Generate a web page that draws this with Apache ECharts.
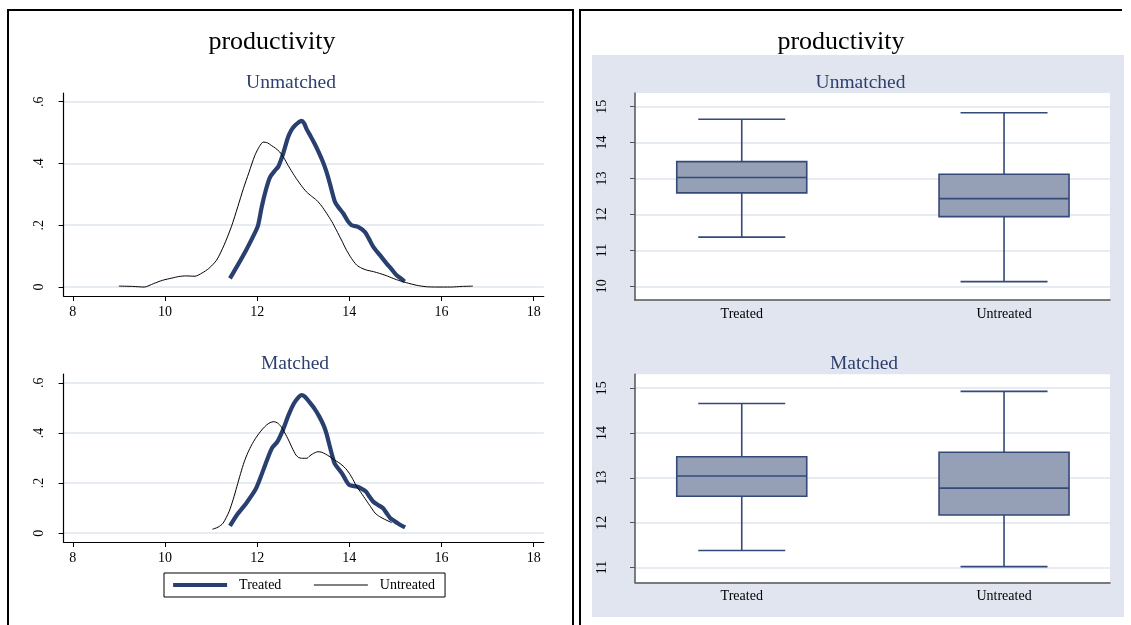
<!DOCTYPE html>
<html>
<head>
<meta charset="utf-8">
<script src="https://cdn.jsdelivr.net/npm/echarts@6/dist/echarts.min.js"></script>
<style>
  html, body { margin: 0; padding: 0; background: #fff; }
  #chart { width: 1131px; height: 625px; }
</style>
</head>
<body>
<div id="chart"></div>
<script>
// Kernel density estimates of productivity, [x, density]
const densTreatedUnmatched = [
  [11.41,0.028],[11.56,0.066],[11.76,0.119],[11.95,0.175],[12.02,0.200],[12.10,0.260],[12.19,0.315],
  [12.28,0.356],[12.38,0.376],[12.46,0.390],[12.56,0.430],[12.67,0.485],[12.75,0.510],[12.82,0.523],
  [12.90,0.533],[12.96,0.538],[13.02,0.530],[13.07,0.512],[13.16,0.488],[13.25,0.463],[13.34,0.435],
  [13.43,0.404],[13.50,0.375],[13.58,0.334],[13.69,0.275],[13.78,0.255],[13.87,0.238],[13.96,0.215],
  [14.05,0.200],[14.19,0.195],[14.34,0.178],[14.43,0.155],[14.52,0.130],[14.66,0.104],[14.81,0.076],
  [14.92,0.057],[15.02,0.039],[15.12,0.028],[15.20,0.018]
];
const densUntreatedUnmatched = [
  [9.00,0.003],[9.30,0.002],[9.55,0.000],[9.75,0.011],[9.95,0.022],[10.15,0.029],[10.30,0.034],
  [10.45,0.036],[10.65,0.035],[10.80,0.045],[10.95,0.060],[11.12,0.087],[11.28,0.135],[11.44,0.195],
  [11.58,0.260],[11.70,0.318],[11.82,0.370],[11.95,0.426],[12.05,0.455],[12.13,0.469],[12.22,0.467],
  [12.31,0.458],[12.40,0.449],[12.49,0.437],[12.58,0.418],[12.67,0.394],[12.76,0.372],[12.85,0.351],
  [12.96,0.328],[13.07,0.308],[13.18,0.294],[13.29,0.281],[13.40,0.262],[13.51,0.238],[13.62,0.212],
  [13.72,0.184],[13.83,0.152],[13.94,0.119],[14.05,0.092],[14.16,0.071],[14.27,0.061],[14.37,0.055],
  [14.52,0.050],[14.66,0.044],[14.80,0.037],[14.95,0.028],[15.10,0.020],[15.24,0.014],[15.45,0.006],
  [15.67,0.001],[15.90,0.000],[16.20,0.000],[16.45,0.002],[16.68,0.003]
];
const densTreatedMatched = [
  [11.41,0.029],[11.56,0.073],[11.76,0.119],[11.96,0.173],[12.08,0.226],[12.20,0.285],[12.32,0.339],
  [12.44,0.365],[12.56,0.412],[12.68,0.471],[12.80,0.518],[12.90,0.543],[12.96,0.551],[13.04,0.544],
  [13.14,0.522],[13.24,0.498],[13.34,0.468],[13.44,0.431],[13.50,0.400],[13.56,0.358],[13.62,0.315],
  [13.68,0.279],[13.76,0.258],[13.84,0.239],[13.92,0.213],[14.00,0.192],[14.16,0.186],[14.26,0.178],
  [14.36,0.166],[14.44,0.145],[14.52,0.126],[14.62,0.113],[14.73,0.100],[14.81,0.080],[14.89,0.060],
  [14.97,0.050],[15.05,0.040],[15.13,0.031],[15.21,0.023]
];
const densUntreatedMatched = [
  [11.03,0.016],[11.15,0.024],[11.26,0.040],[11.39,0.086],[11.48,0.135],[11.56,0.186],[11.64,0.238],
  [11.72,0.285],[11.80,0.322],[11.88,0.352],[11.96,0.377],[12.04,0.398],[12.12,0.416],[12.20,0.431],
  [12.28,0.441],[12.36,0.445],[12.44,0.440],[12.52,0.425],[12.60,0.400],[12.68,0.372],[12.76,0.340],
  [12.84,0.312],[12.90,0.302],[12.96,0.299],[13.08,0.299],[13.14,0.308],[13.20,0.316],[13.32,0.325],
  [13.40,0.323],[13.48,0.316],[13.58,0.305],[13.68,0.292],[13.76,0.283],[13.84,0.272],[13.92,0.258],
  [14.00,0.239],[14.08,0.214],[14.16,0.186],[14.26,0.160],[14.36,0.133],[14.46,0.106],[14.56,0.080],
  [14.66,0.066],[14.76,0.056],[14.84,0.049],[14.92,0.042]
];

// Box summaries per group: [lower whisker, Q1, median, Q3, upper whisker]
const groups = ['Treated', 'Untreated'];
const boxUnmatched = [
  [11.37, 12.60, 13.03, 13.47, 14.65],
  [10.13, 11.94, 12.44, 13.12, 14.83]
];
const boxMatched = [
  [11.38, 12.59, 13.04, 13.47, 14.66],
  [11.02, 12.17, 12.77, 13.57, 14.93]
];

// Tick values
const densityTicksX = [8, 10, 12, 14, 16, 18];
const densityTicksY = [0, 0.2, 0.4, 0.6];
const boxTicksUnmatched = [10, 11, 12, 13, 14, 15];
const boxTicksMatched = [11, 12, 13, 14, 15];
const groupTicks = [0, 1];

const SERIF = '"Liberation Serif", "DejaVu Serif", serif';
const NAVY = '#283f70';
const SUBTITLE = '#2d3f6d';
const GRIDLINE = '#dfe4ee';
const BOX_FILL = '#95a0b6';
const BOX_LINE = '#34487a';
const PANEL_BG = '#e0e5ef';
const BOX_W = 130;
const CAP_W = 87;
const THICK = 4.2;

const fmtDensity = v => (Math.abs(v) < 1e-9 ? '0' : String(+v.toFixed(1)).replace(/^0/, ''));

function densityXAxis(gridIndex) {
  return {
    type: 'value', gridIndex, min: 7.8, max: 18.22,
    axisLine: { onZero: false, lineStyle: { color: '#000', width: 1.2 } },
    axisTick: { show: true, length: 5, customValues: densityTicksX, lineStyle: { color: '#000' } },
    axisLabel: { customValues: densityTicksX, margin: 9, color: '#000', fontFamily: SERIF, fontSize: 14 },
    splitLine: { show: false }
  };
}
function densityYAxis(gridIndex, min, max) {
  return {
    type: 'value', gridIndex, min, max,
    axisLine: { show: true, onZero: false, lineStyle: { color: '#000', width: 1.2 } },
    axisTick: { show: true, length: 5, customValues: densityTicksY, lineStyle: { color: '#000' } },
    axisLabel: { customValues: densityTicksY, rotate: 90, margin: 17, formatter: fmtDensity,
      color: '#000', fontFamily: SERIF, fontSize: 14 },
    splitLine: { show: true, lineStyle: { color: GRIDLINE, width: 1.5 } }
  };
}
function boxXAxis(gridIndex) {
  return {
    type: 'value', gridIndex, min: -0.407, max: 1.404,
    axisLine: { onZero: false, lineStyle: { color: '#555', width: 1.5 } },
    axisTick: { show: false },
    axisLabel: { customValues: groupTicks, margin: 7, formatter: v => groups[Math.round(v)],
      color: '#000', fontFamily: SERIF, fontSize: 14 },
    splitLine: { show: false }
  };
}
function boxYAxis(gridIndex, min, max, ticks) {
  return {
    type: 'value', gridIndex, min, max,
    axisLine: { show: true, onZero: false, lineStyle: { color: '#555', width: 1.5 } },
    axisTick: { show: true, length: 5, customValues: ticks, lineStyle: { color: '#555' } },
    axisLabel: { customValues: ticks, rotate: 90, margin: 26, color: '#000', fontFamily: SERIF, fontSize: 14 },
    splitLine: { show: true, lineStyle: { color: GRIDLINE, width: 1.5 } }
  };
}

function densitySeries(name, data, idx, thick) {
  return {
    type: 'line', name, data, xAxisIndex: idx, yAxisIndex: idx,
    smooth: 0.25, symbol: 'none', showSymbol: false,
    lineStyle: { color: thick ? NAVY : '#000', width: thick ? THICK : 1 },
    itemStyle: { color: thick ? NAVY : '#000' },
    z: thick ? 3 : 4
  };
}

// Box with whiskers and caps, drawn through the axis coordinate system
function renderBox(params, api) {
  const x = api.value(0);
  const lo = api.coord([x, api.value(1)]);
  const q1 = api.coord([x, api.value(2)]);
  const med = api.coord([x, api.value(3)]);
  const q3 = api.coord([x, api.value(4)]);
  const hi = api.coord([x, api.value(5)]);
  const cx = lo[0];
  const line = { stroke: BOX_LINE, lineWidth: 1.6 };
  return {
    type: 'group',
    children: [
      { type: 'line', shape: { x1: cx, y1: hi[1], x2: cx, y2: q3[1] }, style: line },
      { type: 'line', shape: { x1: cx, y1: q1[1], x2: cx, y2: lo[1] }, style: line },
      { type: 'line', shape: { x1: cx - CAP_W / 2, y1: hi[1], x2: cx + CAP_W / 2, y2: hi[1] }, style: line },
      { type: 'line', shape: { x1: cx - CAP_W / 2, y1: lo[1], x2: cx + CAP_W / 2, y2: lo[1] }, style: line },
      { type: 'rect', shape: { x: cx - BOX_W / 2, y: q3[1], width: BOX_W, height: q1[1] - q3[1] },
        style: { fill: BOX_FILL, stroke: BOX_LINE, lineWidth: 1.6 } },
      { type: 'line', shape: { x1: cx - BOX_W / 2, y1: med[1], x2: cx + BOX_W / 2, y2: med[1] }, style: line }
    ]
  };
}
function boxSeries(name, boxes, idx) {
  return {
    type: 'custom', name, xAxisIndex: idx, yAxisIndex: idx,
    data: boxes.map((b, i) => [i].concat(b)),
    renderItem: renderBox,
    encode: { x: 0, y: [1, 2, 3, 4, 5] },
    z: 3
  };
}

const titleText = (text, cx, top, size, color) => ({
  text, left: cx, top, textAlign: 'center', padding: 0,
  textStyle: { fontFamily: SERIF, fontSize: size, fontWeight: 'normal', color }
});

const chart = echarts.init(document.getElementById('chart'), null, { renderer: 'canvas' });
chart.setOption({
  animation: false,
  backgroundColor: '#fff',
  title: [
    titleText('productivity', 272, 29, 26, '#000'),
    titleText('Unmatched', 291, 72.5, 19.5, SUBTITLE),
    titleText('Matched', 295, 353.5, 19.5, SUBTITLE),
    titleText('productivity', 841, 29, 26, '#000'),
    titleText('Unmatched', 860.5, 72.5, 19.5, SUBTITLE),
    titleText('Matched', 864, 353.5, 19.5, SUBTITLE)
  ],
  graphic: [
    { type: 'rect', z: -10, shape: { x: 592, y: 55, width: 532, height: 562 }, style: { fill: PANEL_BG } },
    { type: 'polyline', z: 100, shape: { points: [[8, 660], [8, 10], [573, 10], [573, 660]] },
      style: { stroke: '#000', lineWidth: 2, fill: null } },
    { type: 'polyline', z: 100, shape: { points: [[580, 660], [580, 10], [1122, 10]] },
      style: { stroke: '#000', lineWidth: 2, fill: null } }
  ],
  legend: {
    data: [
      { name: 'Treated', lineStyle: { width: THICK, color: NAVY } },
      { name: 'Untreated', lineStyle: { width: 1, color: '#000' } }
    ],
    left: 164, top: 573,
    padding: [5, 10, 5, 7],
    itemGap: 32, itemWidth: 54, itemHeight: 14,
    borderColor: '#000', borderWidth: 1, backgroundColor: '#fff',
    selectedMode: false,
    itemStyle: { opacity: 0 },
    textStyle: { fontFamily: SERIF, fontSize: 14, color: '#000', padding: [0, 0, 0, 7] }
  },
  grid: [
    { left: 63.6, top: 93, width: 480.2, height: 203 },
    { left: 63.6, top: 374, width: 480.2, height: 168 },
    { left: 635, top: 93, width: 475, height: 207, show: true, backgroundColor: '#fff', borderWidth: 0 },
    { left: 635, top: 374.3, width: 475, height: 208, show: true, backgroundColor: '#fff', borderWidth: 0 }
  ],
  xAxis: [densityXAxis(0), densityXAxis(1), boxXAxis(2), boxXAxis(3)],
  yAxis: [
    densityYAxis(0, -0.029, 0.628),
    densityYAxis(1, -0.035, 0.635),
    boxYAxis(2, 9.62, 15.38, boxTicksUnmatched),
    boxYAxis(3, 10.67, 15.31, boxTicksMatched)
  ],
  series: [
    densitySeries('Treated', densTreatedUnmatched, 0, true),
    densitySeries('Untreated', densUntreatedUnmatched, 0, false),
    densitySeries('Treated', densTreatedMatched, 1, true),
    densitySeries('Untreated', densUntreatedMatched, 1, false),
    boxSeries('Unmatched boxes', boxUnmatched, 2),
    boxSeries('Matched boxes', boxMatched, 3)
  ]
});
</script>
</body>
</html>
